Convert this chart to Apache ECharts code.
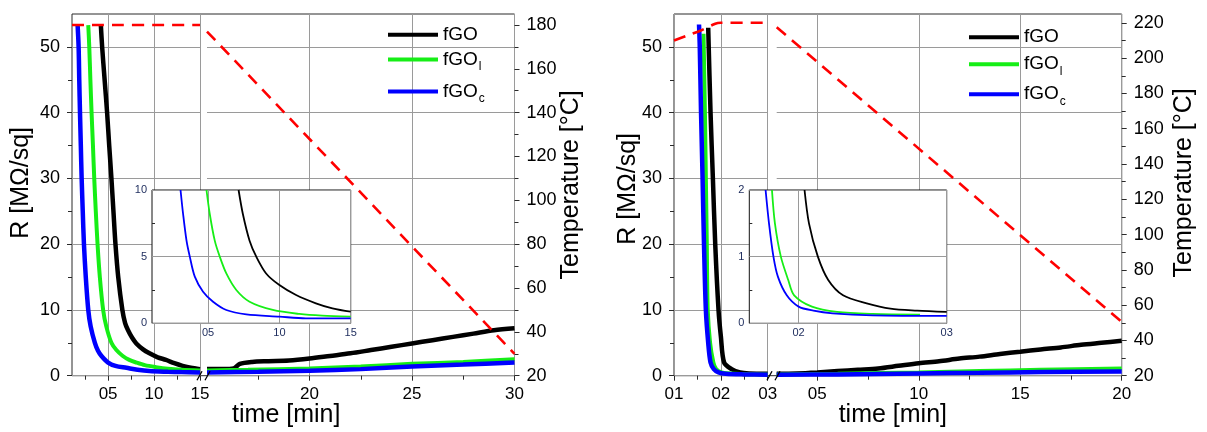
<!DOCTYPE html>
<html><head><meta charset="utf-8">
<script src="https://cdn.jsdelivr.net/npm/echarts@6/dist/echarts.min.js"></script>
<style>html,body{margin:0;padding:0;background:#fff}#c{width:1207px;height:432px}</style>
</head><body><div id="c"></div>
<script>
// ================= DATA =================
// tick values / labels
const rTicks = [0, 10, 20, 30, 40, 50];
const rMinor = [5, 15, 25, 35, 45];
const leftSeg1Ticks = [5, 10, 15];
const leftSeg1Minor = [2.5, 7.5, 12.5];
const leftSeg2Ticks = [20, 25, 30];
const leftSeg2Minor = [17.5, 22.5, 27.5];
const rightSeg1Ticks = [1, 2, 3];
const rightSeg1Minor = [1.5, 2.5];
const rightSeg2Ticks = [5, 10, 15, 20];
const rightSeg2Minor = [7.5, 12.5, 17.5];
const tLeftTicks = [20, 40, 60, 80, 100, 120, 140, 160, 180];
const tLeftMinor = [30, 50, 70, 90, 110, 130, 150, 170];
const tRightTicks = [20, 40, 60, 80, 100, 120, 140, 160, 180, 200, 220];
const tRightMinor = [30, 50, 70, 90, 110, 130, 150, 170, 190, 210];
const insetLeftXTicks = [5, 10, 15];
const insetLeftYTicks = [0, 5, 10];
const insetLeftYMinor = [2.5, 7.5];
const insetRightXTicks = [2, 3];
const insetRightYTicks = [0, 1, 2];
const insetRightYMinor = [0.5, 1.5];

// left panel, first segment  [time, R]
const leftFGO_1 = [[4.21,53.3],[4.35,50],[4.62,45],[4.89,40],[5.12,35],[5.36,30],[5.58,25],[5.8,20],[6.1,15],[6.55,10],[6.85,8],[7.17,6.9],[7.6,5.8],[8.07,4.9],[8.8,4.0],[9.5,3.4],[10.4,2.8],[11.3,2.4],[12.2,1.9],[13.1,1.5],[14.0,1.2],[15,1.0]];
const leftFGOl_1 = [[2.84,53.3],[2.95,50],[3.07,45],[3.2,40],[3.35,35],[3.49,30],[3.66,25],[3.85,20],[4.1,15],[4.46,10],[4.8,7.5],[5.36,5],[5.9,3.9],[6.6,3.0],[7.3,2.4],[8.07,2.0],[9.0,1.6],[10.2,1.3],[11.5,1.05],[13,0.9],[15,0.8]];
const leftFGOc_1 = [[1.68,53.3],[1.79,50],[1.86,45],[1.94,40],[2.03,35],[2.12,30],[2.24,25],[2.37,20],[2.57,15],[2.84,10],[3.1,7.5],[3.56,5],[3.9,3.8],[4.28,3.0],[5.0,2.0],[5.8,1.5],[7.0,1.2],[8.2,0.9],[9.5,0.7],[11.5,0.6],[13,0.55],[15,0.5]];
const leftTemp_1 = [[1.07,180],[15,180]];
// left panel, second segment
const leftFGO_2 = [[15,1.0],[15.8,1.0],[16.3,1.1],[16.6,1.8],[17.2,2.1],[18,2.2],[19,2.3],[20,2.6],[21,3.0],[22,3.4],[23,3.9],[24,4.4],[25,4.9],[26,5.4],[27,5.9],[28,6.4],[29,6.9],[30,7.2]];
const leftFGOl_2 = [[15,0.8],[17,0.9],[20,1.1],[22.5,1.4],[25,1.8],[27.5,2.1],[30,2.5]];
const leftFGOc_2 = [[15,0.5],[17.5,0.6],[20,0.75],[22.5,1.0],[25,1.4],[27.5,1.7],[30,2.0]];
const leftTemp_2 = [[15,177],[30,30]];
// left inset
const insetLeftFGO = [[7.14,10],[7.44,8.2],[7.91,6.2],[8.38,5.0],[9.07,3.74],[10.0,2.87],[11.17,2.12],[12.56,1.5],[13.72,1.12],[15,0.87]];
const insetLeftFGOl = [[4.89,10],[5.12,8.2],[5.47,6.2],[5.82,5.0],[6.28,3.74],[6.98,2.5],[7.91,1.62],[9.54,1.0],[11.4,0.7],[13.0,0.57],[15,0.5]];
const insetLeftFGOc = [[3.07,10],[3.25,8.2],[3.49,6.2],[3.72,5.0],[4.07,3.5],[4.65,2.37],[5.35,1.62],[6.28,1.0],[7.68,0.67],[10.0,0.5],[11.86,0.37],[15,0.37]];

// right panel, first segment
const rightFGO_1 = [[1.73,52.9],[1.78,40],[1.83,30],[1.88,20],[1.95,10],[2.0,6],[2.07,2],[2.23,1],[2.41,0.5],[2.6,0.35],[3,0.3]];
const rightFGOl_1 = [[1.63,52],[1.66,40],[1.68,30],[1.70,20],[1.72,10],[1.77,5],[1.84,2],[1.9,1],[2.02,0.5],[2.3,0.3],[3,0.2]];
const rightFGOc_1 = [[1.534,53.4],[1.55,50],[1.577,40],[1.61,30],[1.64,20],[1.68,10],[1.73,5],[1.78,2],[1.85,1.0],[1.95,0.5],[2.1,0.3],[2.5,0.2],[3,0.15]];
const rightTemp_1 = [[1,210],[1.3,213],[1.56,215.5],[1.88,219.5],[2.0,220],[3,220]];
// right panel, second segment
const rightFGO_2 = [[3,0.3],[4,0.35],[5,0.5],[6,0.7],[7,0.9],[8,1.1],[9,1.5],[10,1.9],[11,2.2],[12,2.6],[13,2.9],[14,3.3],[15,3.65],[16,4.0],[17,4.3],[18,4.7],[19,5.0],[20,5.3]];
const rightFGOl_2 = [[3,0.2],[6,0.3],[10,0.5],[13,0.7],[16,0.9],[20,1.1]];
const rightFGOc_2 = [[3,0.15],[6,0.2],[10,0.35],[13,0.45],[16,0.55],[20,0.65]];
const rightTemp_2 = [[3,217.5],[20,50.5]];
// right inset
const insetRightFGO = [[2.04,2],[2.07,1.5],[2.13,1.0],[2.2,0.65],[2.3,0.42],[2.46,0.3],[2.62,0.22],[2.8,0.19],[3,0.17]];
const insetRightFGOl = [[1.82,2],[1.84,1.5],[1.88,1.0],[1.93,0.65],[1.97,0.42],[2.09,0.25],[2.26,0.17],[2.5,0.14],[2.82,0.13]];
const insetRightFGOc = [[1.777,2],[1.80,1.5],[1.83,1.0],[1.86,0.7],[1.92,0.42],[2.0,0.25],[2.1,0.19],[2.23,0.15],[2.5,0.12],[3,0.11]];

// ================= STYLE / LAYOUT =================
const FONT = 'Arial, "Liberation Sans", Helvetica, sans-serif';
const AX = '#2a2a2a', GRIDC = '#9a9a9a', NAVY = '#1c2b5c';
const C_BLACK = '#000000', C_GREEN = '#16ee16', C_BLUE = '#0000ff', C_RED = '#ff0000';
const TOP = 14, H = 361.7;
const pad2 = v => (v < 10 ? '0' : '') + v;

const grids = [], xAxis = [], yAxis = [], series = [], legends = [], graphic = [];
const addGrid = g => (grids.push(Object.assign({outerBoundsMode: 'none', containLabel: false}, g)), grids.length - 1);
const addX = a => (xAxis.push(a), xAxis.length - 1);
const addY = a => (yAxis.push(a), yAxis.length - 1);

function ax(gi, min, max, pos, o) {
  o = o || {};
  const a = {
    type: 'value', gridIndex: gi, min: min, max: max, position: pos,
    z: o.z || 0, silent: true, nameMoveOverlap: false,
    axisLine: {show: false},
    axisTick: {show: !!o.tickShow, customValues: o.ticks, length: o.tickLen || 5, inside: !!o.inside,
               lineStyle: {color: AX, width: 1}},
    axisLabel: o.labels ? {show: true, customValues: o.labels, formatter: o.fmt || (v => String(v)),
               fontSize: o.fs || 17, fontFamily: FONT, color: o.lc || '#000',
               margin: o.margin != null ? o.margin : 10} : {show: false},
    splitLine: {show: !!o.split, lineStyle: {color: GRIDC, width: 1}},
    minorTick: {show: false}, minorSplitLine: {show: false}
  };
  if (o.name) {
    a.name = o.name; a.nameLocation = 'middle'; a.nameGap = o.nameGap;
    if (o.nameRotate != null) a.nameRotate = o.nameRotate;
    a.nameTextStyle = Object.assign({fontSize: 25, fontFamily: FONT, color: '#000'}, o.nameStyle || {});
  }
  return a;
}

function line(name, data, xi, yi, color, width, z, dash, smooth) {
  return {
    type: 'line', name: name, data: data, xAxisIndex: xi, yAxisIndex: yi,
    showSymbol: false, symbol: 'none', silent: true, clip: true, z: z,
    smooth: smooth || false,
    lineStyle: {color: color, width: width, type: dash || 'solid'},
    itemStyle: {color: color}
  };
}

function breakMarks(cx, cy) {
  [-4, 4].forEach(dx => graphic.push({
    type: 'line', z: 60, silent: true,
    shape: {x1: cx + dx - 2.5, y1: cy + 4.5, x2: cx + dx + 2.5, y2: cy - 4.5},
    style: {stroke: '#000', lineWidth: 1.3}
  }));
}

function panel(P) {
  // frame around the whole panel
  const gf = addGrid({left: P.x1, top: TOP, width: P.x2 - P.x1, height: H, show: true,
                      borderColor: AX, borderWidth: 1, backgroundColor: 'transparent'});
  addX(ax(gf, 0, 1, 'bottom', {name: 'time [min]', nameGap: 27, nameStyle: {padding: P.timePad}}));
  addY(ax(gf, 0, 1, 'left', {}));

  // segment 1
  const g1 = addGrid({left: P.x1, top: TOP, width: P.b1 - P.x1, height: H});
  const x1 = addX(ax(g1, P.s1min, P.s1max, 'bottom', {ticks: P.s1Ticks, tickShow: true, labels: P.s1Ticks, fmt: pad2, split: true}));
  addX(ax(g1, P.s1min, P.s1max, 'bottom', {ticks: P.s1Minor, tickShow: true, tickLen: 4}));
  const yR1 = addY(ax(g1, 0, 55, 'left', {ticks: rTicks, tickShow: true, labels: rTicks, fs: 18, margin: 12, split: true,
                   name: 'R [M\u03A9/sq]', nameGap: P.rGap, nameRotate: 90, nameStyle: {padding: P.rPad}}));
  addY(ax(g1, 0, 55, 'left', {ticks: rMinor, tickShow: true, tickLen: 4}));
  const yT1 = addY(ax(g1, 20, P.tMax, 'right', {}));

  // segment 2
  const g2 = addGrid({left: P.s2x, top: TOP, width: P.x2 - P.s2x, height: H});
  const x2 = addX(ax(g2, P.s2min, P.s2max, 'bottom', {ticks: P.s2Ticks, tickShow: true, labels: P.s2Ticks, fmt: pad2, split: true}));
  addX(ax(g2, P.s2min, P.s2max, 'bottom', {ticks: P.s2Minor, tickShow: true, tickLen: 4}));
  const yR2 = addY(ax(g2, 0, 55, 'left', {ticks: rTicks, split: true}));
  const yT2 = addY(ax(g2, 20, P.tMax, 'right', {ticks: P.tTicks, tickShow: true, labels: P.tTicks, fs: 18, margin: 12,
                   name: 'Temperature [\u00B0C]', nameGap: P.tGap, nameRotate: 90, nameStyle: {padding: P.tPad}}));
  addY(ax(g2, 20, P.tMax, 'right', {ticks: P.tMinor, tickShow: true, tickLen: 4}));

  // inset
  const gi = addGrid({left: P.ix, top: 190, width: P.iw, height: 133.3, show: true, backgroundColor: '#fff',
                      borderColor: '#111', borderWidth: 1, z: 10});
  const xi = addX(ax(gi, P.imin, P.imax, 'bottom', {z: 11, ticks: P.iXTicks, labels: P.iXTicks, fmt: pad2, fs: 11,
                  lc: NAVY, margin: 4, split: true}));
  const yi = addY(ax(gi, 0, P.iyMax, 'left', {z: 11, ticks: P.iYTicks, labels: P.iYTicks, fs: 11, lc: NAVY, margin: 5, split: true}));
  addY(ax(gi, 0, P.iyMax, 'left', {z: 11, ticks: P.iYMinor, tickShow: true, inside: true, tickLen: 3}));

  // main curves
  const S = 0.3;
  series.push(line('fGO', P.d.fgo1, x1, yR1, C_BLACK, 4.5, 3, null, S));
  series.push(line('fGOl', P.d.fgol1, x1, yR1, C_GREEN, 4, 3, null, S));
  series.push(line('fGOc', P.d.fgoc1, x1, yR1, C_BLUE, 4.5, 3, null, S));
  series.push(line('fGO', P.d.fgo2, x2, yR2, C_BLACK, 4.5, 3, null, S));
  series.push(line('fGOl', P.d.fgol2, x2, yR2, C_GREEN, 4, 3, null, S));
  series.push(line('fGOc', P.d.fgoc2, x2, yR2, C_BLUE, 4.5, 3, null, S));
  series.push(line('Temperature', P.d.t1, x1, yT1, C_RED, 2.6, 4, [12, 8], 0.3));
  series.push(line('Temperature', P.d.t2, x2, yT2, C_RED, 2.6, 4, [12, 8]));
  // inset curves
  series.push(line('fGO inset', P.d.i0, xi, yi, C_BLACK, 1.8, 12, null, S));
  series.push(line('fGOl inset', P.d.i1, xi, yi, C_GREEN, 1.8, 12, null, S));
  series.push(line('fGOc inset', P.d.i2, xi, yi, C_BLUE, 1.8, 12, null, S));

  // legend, one component per entry
  const rich = {
    m: {fontSize: 19, lineHeight: 26, fontFamily: FONT, color: '#000'},
    s: {fontSize: 12, padding: [14, 0, 0, 1], fontFamily: FONT, color: '#000'}
  };
  const fmt = {fGO: '{m|fGO}', fGOl: '{m|fGO}{s|l}', fGOc: '{m|fGO}{s|c}'};
  ['fGO', 'fGOl', 'fGOc'].forEach((n, k) => legends.push({
    data: [{name: n, icon: 'rect'}], left: P.legX, top: P.legY[k] - 13, padding: 0,
    itemWidth: 50, itemHeight: 4, selectedMode: false, formatter: nm => fmt[nm],
    textStyle: {fontFamily: FONT, color: '#000', rich: rich}
  }));

  breakMarks(P.brkX, TOP + H);
}

panel({
  x1: 72, x2: 514.5, b1: 200, s2x: 207,
  s1min: 1.07, s1max: 15, s2min: 15, s2max: 30, tMax: 185,
  s1Ticks: leftSeg1Ticks, s1Minor: leftSeg1Minor, s2Ticks: leftSeg2Ticks, s2Minor: leftSeg2Minor,
  tTicks: tLeftTicks, tMinor: tLeftMinor,
  rGap: 38, rPad: [0, 0, 0, 24], tGap: 44, tPad: [0, 0, 0, 20], timePad: [0, 14, 0, 0],
  ix: 152, iw: 198.7, imin: 1.07, imax: 15, iyMax: 10,
  iXTicks: insetLeftXTicks, iYTicks: insetLeftYTicks, iYMinor: insetLeftYMinor,
  legX: 388, legY: [38.3, 63, 95], brkX: 203.5,
  d: {fgo1: leftFGO_1, fgol1: leftFGOl_1, fgoc1: leftFGOc_1, fgo2: leftFGO_2, fgol2: leftFGOl_2, fgoc2: leftFGOc_2,
      t1: leftTemp_1, t2: leftTemp_2, i0: insetLeftFGO, i1: insetLeftFGOl, i2: insetLeftFGOc}
});
panel({
  x1: 674, x2: 1121.7, b1: 767.7, s2x: 776.7,
  s1min: 1, s1max: 3, s2min: 3, s2max: 20, tMax: 225,
  s1Ticks: rightSeg1Ticks, s1Minor: rightSeg1Minor, s2Ticks: rightSeg2Ticks, s2Minor: rightSeg2Minor,
  tTicks: tRightTicks, tMinor: tRightMinor,
  rGap: 33, rPad: [0, 0, 0, 12], tGap: 50, tPad: [0, 0, 0, 24], timePad: [0, 10, 0, 0],
  ix: 749.3, iw: 197.4, imin: 1.667, imax: 3, iyMax: 2,
  iXTicks: insetRightXTicks, iYTicks: insetRightYTicks, iYMinor: insetRightYMinor,
  legX: 969, legY: [40.7, 67.7, 97.7], brkX: 773.5,
  d: {fgo1: rightFGO_1, fgol1: rightFGOl_1, fgoc1: rightFGOc_1, fgo2: rightFGO_2, fgol2: rightFGOl_2, fgoc2: rightFGOc_2,
      t1: rightTemp_1, t2: rightTemp_2, i0: insetRightFGO, i1: insetRightFGOl, i2: insetRightFGOc}
});

const chart = echarts.init(document.getElementById('c'), null, {renderer: 'canvas'});
chart.setOption({
  animation: false,
  backgroundColor: '#fff',
  textStyle: {fontFamily: FONT},
  grid: grids, xAxis: xAxis, yAxis: yAxis, series: series, legend: legends, graphic: graphic
});
</script>
</body></html>
